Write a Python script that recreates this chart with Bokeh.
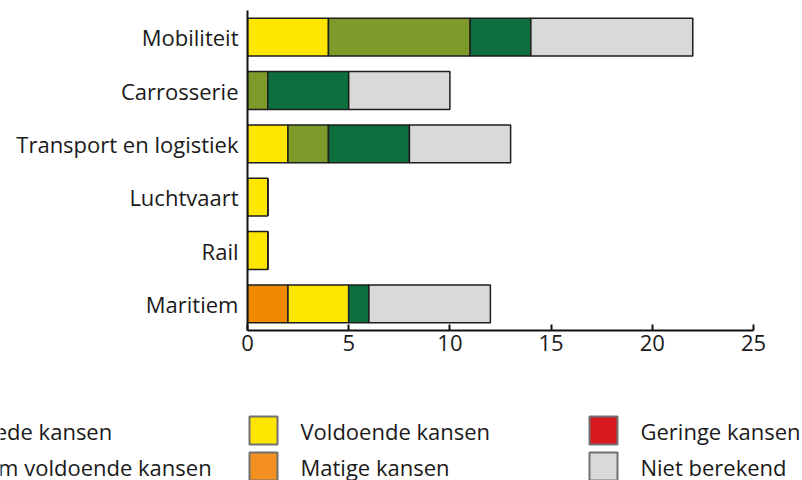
from bokeh.plotting import figure
from bokeh.models import FactorRange, Range1d, FixedTicker, ColumnDataSource
from bokeh.layouts import column
from bokeh.core.properties import value
from bokeh.embed import file_html
from bokeh.resources import INLINE

# ---- data ----
categories = ["Mobiliteit", "Carrosserie", "Transport en logistiek", "Luchtvaart", "Rail", "Maritiem"]
geringe = [0, 0, 0, 0, 0, 0]
matige = [0, 0, 0, 0, 0, 2]
voldoende = [4, 0, 2, 1, 1, 3]
ruim_voldoende = [7, 1, 2, 0, 0, 0]
goede = [3, 4, 4, 0, 0, 1]
niet_berekend = [8, 5, 5, 0, 0, 6]
x_ticks = [0, 5, 10, 15, 20, 25]

series_names = ["Geringe kansen", "Matige kansen", "Voldoende kansen",
                "Ruim voldoende kansen", "Goede kansen", "Niet berekend"]
series_keys = ["geringe", "matige", "voldoende", "ruim", "goede", "niet"]
series_colors = ["#D7191F", "#EF8A00", "#FFE600", "#7E9A2A", "#0D6E3E", "#D9D9D9"]

# legend layout (columns, top to bottom)
legend_cols = [["Goede kansen", "Ruim voldoende kansen"],
               ["Voldoende kansen", "Matige kansen"],
               ["Geringe kansen", "Niet berekend"]]
legend_colors = {"Goede kansen": "#0D6E3E", "Ruim voldoende kansen": "#7E9A2A",
                 "Voldoende kansen": "#FFE600", "Matige kansen": "#F39020",
                 "Geringe kansen": "#D7191F", "Niet berekend": "#D9D9D9"}

FONT = "Open Sans"
FSIZE = "22px"
TXT = "#1a1a1a"

source = ColumnDataSource(dict(
    cat=categories, geringe=geringe, matige=matige, voldoende=voldoende,
    ruim=ruim_voldoende, goede=goede, niet=niet_berekend))

p = figure(width=802, height=390, output_backend="svg", toolbar_location=None,
           y_range=FactorRange(factors=list(reversed(categories)), range_padding=0),
           x_range=Range1d(0, 25),
           min_border_left=247, min_border_right=49, min_border_top=10, min_border_bottom=60)
p.frame_align = False

p.hbar_stack(series_keys, y="cat", height=0.71, color=series_colors, source=source,
             line_color="#1e1e1e", line_width=1.5)

p.xgrid.grid_line_color = None
p.ygrid.grid_line_color = None
p.outline_line_color = None

p.xaxis.ticker = FixedTicker(ticks=x_ticks)
p.xaxis.major_tick_in = 6
p.xaxis.major_tick_out = 0
p.xaxis.minor_tick_line_color = None
p.xaxis.axis_line_width = 2
p.xaxis.major_tick_line_width = 2
p.xaxis.major_label_standoff = 4

p.yaxis.major_tick_in = 0
p.yaxis.major_tick_out = 0
p.yaxis.minor_tick_line_color = None
p.yaxis.axis_line_width = 2
p.yaxis.major_label_standoff = 9

for ax in (p.xaxis, p.yaxis):
    ax.axis_line_color = "#111111"
    ax.major_tick_line_color = "#111111"
    ax.major_label_text_font = FONT
    ax.major_label_text_font_size = FSIZE
    ax.major_label_text_color = TXT

# ---- legend figure (page-pixel coordinates) ----
col_square_x = [-86, 249, 589]
text_offset = 51
row_y = [430, 466]
sq = 28

lg = figure(width=802, height=90, output_backend="svg", toolbar_location=None,
            x_range=Range1d(0, 802), y_range=Range1d(480, 390),
            x_axis_location=None, y_axis_location=None, min_border=0)
lg.frame_align = False
lg.xgrid.grid_line_color = None
lg.ygrid.grid_line_color = None
lg.outline_line_color = None

rx, ry, rc, tx, ty, tt = [], [], [], [], [], []
for ci, col in enumerate(legend_cols):
    for ri, name in enumerate(col):
        rx.append(col_square_x[ci] + sq / 2)
        ry.append(row_y[ri])
        rc.append(legend_colors[name])
        tx.append(col_square_x[ci] + text_offset)
        ty.append(row_y[ri])
        tt.append(name)

lg.rect(x=rx, y=ry, width=sq, height=sq, fill_color=rc, line_color="#707070", line_width=2)
lg.text(x=tx, y=ty, text=tt, text_font=value(FONT), text_font_size=FSIZE,
        text_color=TXT, text_baseline="middle", text_align="left")

layout = column(p, lg, spacing=0)
open("out.html", "w").write(file_html(layout, INLINE))
